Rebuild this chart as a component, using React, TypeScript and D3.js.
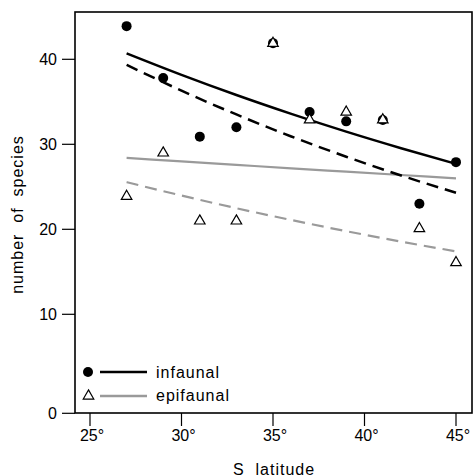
import React from "react";
import * as d3 from "d3";

const latitudes = [27, 29, 31, 33, 35, 37, 39, 41, 43, 45];
const infaunal = [43.9, 37.8, 30.9, 32.0, 41.9, 33.8, 32.7, 32.85, 23.0, 27.9];
const epifaunal = [24.0, 29.1, 21.1, 21.1, 42.0, 33.0, 33.9, 33.0, 20.2, 16.2];

const fitLat = [27, 30, 33, 36, 39, 42, 45];
const infaunalFitSolid = [40.7, 38.17, 35.8, 33.58, 31.49, 29.54, 27.7];
const infaunalFitDashed = [39.35, 36.31, 33.51, 30.92, 28.54, 26.33, 24.3];
const epifaunalFitSolid = [28.4, 27.99, 27.58, 27.17, 26.78, 26.39, 26.0];
const epifaunalFitDashed = [25.55, 23.97, 22.48, 21.09, 19.78, 18.55, 17.4];

const xTicks = [25, 30, 35, 40, 45];
const yTicks = [0, 10, 20, 30, 40];

const W = 473;
const H = 476;
const left = 75;
const right = 472;
const top = 12;
const bottom = 413;

const FONT = "'Liberation Sans', Arial, Helvetica, sans-serif";
const GRAY = "#9a9a9a";

export default function App() {
  const x = d3.scaleLinear().domain([25, 45]).range([90, 456]);
  const y = d3.scaleLinear().domain([0, 10, 40]).range([413.3, 314.3, 59.3]);

  const line = d3
    .line<[number, number]>()
    .x((d) => x(d[0]))
    .y((d) => y(d[1]))
    .curve(d3.curveMonotoneX);

  const pts = (vals: number[]) => fitLat.map((l, i) => [l, vals[i]] as [number, number]);
  const tri = d3.symbol().type(d3.symbolTriangle).size(48)();

  return (
    <svg
      width={W}
      height={H}
      style={{ position: "absolute", left: 0, top: 0, display: "block", background: "#fff" }}
      fontFamily={FONT}
    >
      <rect x={0} y={0} width={W} height={H} fill="#fff" />
      {/* fitted lines */}
      <path d={line(pts(epifaunalFitSolid)) || ""} fill="none" stroke={GRAY} strokeWidth={2.2} />
      <path
        d={line(pts(epifaunalFitDashed)) || ""}
        fill="none"
        stroke={GRAY}
        strokeWidth={2.2}
        strokeDasharray="12,7"
      />
      <path d={line(pts(infaunalFitSolid)) || ""} fill="none" stroke="#000" strokeWidth={2.5} />
      <path
        d={line(pts(infaunalFitDashed)) || ""}
        fill="none"
        stroke="#000"
        strokeWidth={2.5}
        strokeDasharray="12,7"
      />
      {/* points */}
      {latitudes.map((l, i) => (
        <circle key={"c" + i} cx={x(l)} cy={y(infaunal[i])} r={5} fill="#000" />
      ))}
      {latitudes.map((l, i) => (
        <path
          key={"t" + i}
          d={tri || ""}
          transform={`translate(${x(l)},${y(epifaunal[i]) + 1})`}
          fill="#fff"
          stroke="#000"
          strokeWidth={1.2}
        />
      ))}
      {/* box */}
      <rect
        x={left}
        y={top}
        width={right - left}
        height={bottom - top}
        fill="none"
        stroke="#000"
        strokeWidth={1.6}
      />
      {/* y axis */}
      {yTicks.map((t) => (
        <g key={"y" + t}>
          <line x1={62} x2={left} y1={y(t)} y2={y(t)} stroke="#000" strokeWidth={1.2} />
          <text x={57} y={y(t) + 5.8} textAnchor="end" fontSize={16} fill="#000">
            {t}
          </text>
        </g>
      ))}
      {/* x axis */}
      {xTicks.map((t) => (
        <g key={"x" + t}>
          <line x1={x(t)} x2={x(t)} y1={bottom} y2={426} stroke="#000" strokeWidth={1.2} />
          <text x={x(t) + 2} y={441} textAnchor="middle" fontSize={16} fill="#000">
            {t + "°"}
          </text>
        </g>
      ))}
      {/* axis titles */}
      <text
        x={274}
        y={474.5}
        textAnchor="middle"
        fontSize={16}
        letterSpacing={1}
        fill="#000"
        style={{ whiteSpace: "pre" }}
      >
        {"S  latitude"}
      </text>
      <text
        transform="translate(23,214.5) rotate(-90)"
        textAnchor="middle"
        fontSize={16}
        letterSpacing={1}
        fill="#000"
        style={{ whiteSpace: "pre" }}
      >
        {"number  of  species"}
      </text>
      {/* legend */}
      <circle cx={88} cy={372} r={5} fill="#000" />
      <line x1={100} x2={147} y1={372} y2={372} stroke="#000" strokeWidth={2.5} />
      <text x={156} y={377.5} fontSize={16} letterSpacing={1} fill="#000">
        infaunal
      </text>
      <path
        d={tri || ""}
        transform="translate(88.5,396)"
        fill="#fff"
        stroke="#000"
        strokeWidth={1.2}
      />
      <line x1={100} x2={147} y1={396} y2={396} stroke={GRAY} strokeWidth={2.5} />
      <text x={156} y={401} fontSize={16} letterSpacing={1} fill="#000">
        epifaunal
      </text>
    </svg>
  );
}
